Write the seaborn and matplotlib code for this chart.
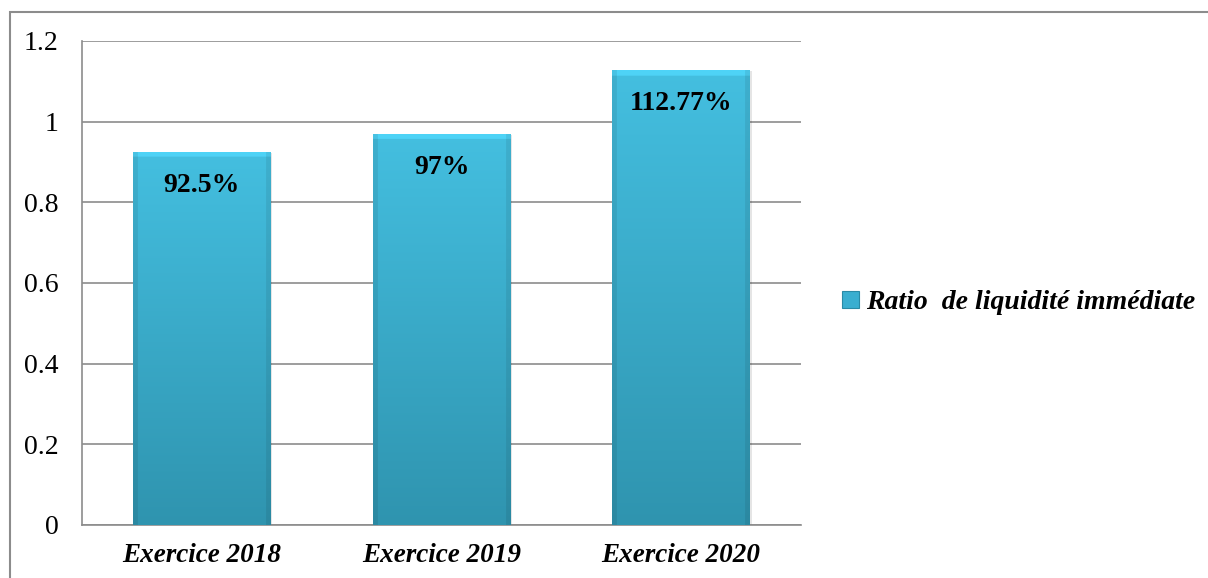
import numpy as np
import pandas as pd
import matplotlib
matplotlib.use("Agg")
import matplotlib.pyplot as plt
import seaborn as sns
from matplotlib.patches import Rectangle, Patch

# Data
categories = ["Exercice 2018", "Exercice 2019", "Exercice 2020"]
ratios = [0.925, 0.97, 1.1277]
labels = ["92.5%", "97%", "112.77%"]
series_name = "Ratio  de liquidité immédiate"
yticks = [0, 0.2, 0.4, 0.6, 0.8, 1.0, 1.2]
ytick_labels = ["0", "0.2", "0.4", "0.6", "0.8", "1", "1.2"]

sns.set_theme(style="white")
plt.rcParams["font.family"] = ["Liberation Serif", "DejaVu Serif"]
plt.rcParams["text.color"] = "black"
plt.rcParams["xtick.color"] = "black"
plt.rcParams["ytick.color"] = "black"

fig = plt.figure(figsize=(12.08, 5.78), dpi=100)
ax = fig.add_axes([0.0679, 0.0917, 0.5952, 0.8374])

df = pd.DataFrame({"cat": categories, "val": ratios})
sns.barplot(data=df, x="cat", y="val", ax=ax, color="#3cb4d8",
            width=0.575, saturation=1, edgecolor="none", zorder=3)

ax.set_ylim(0, 1.2)
ax.set_xlim(-0.5, 2.5)
ax.set_yticks(yticks)
ax.set_yticklabels(ytick_labels, fontsize=20)
ax.set_xlabel("")
ax.set_ylabel("")
ax.set_xticks(range(len(categories)))
ax.set_xticklabels(categories, fontsize=19.5, fontweight="bold", fontstyle="italic")
ax.tick_params(axis="y", length=0, pad=17, labelcolor="black")
ax.tick_params(axis="x", length=0, pad=13, labelcolor="black")

# Gridlines and frame
ax.yaxis.grid(True, color="#8c8c8c", linewidth=1.2, zorder=0)
ax.set_axisbelow(True)
for side in ["top", "right"]:
    ax.spines[side].set_visible(False)
for side in ["left", "bottom"]:
    ax.spines[side].set_color("#8c8c8c")
    ax.spines[side].set_linewidth(1.2)

# Beveled gradient fill for each bar
ny, nx = 400, 140
yy = np.linspace(0, 1, ny)[:, None]          # 0 = bottom, 1 = top
xx = np.linspace(0, 1, nx)[None, :]
top_c = np.array([0x44, 0xbf, 0xe0]) / 255
bot_c = np.array([0x2f, 0x94, 0xaf]) / 255
base = bot_c[None, None, :] + (top_c - bot_c)[None, None, :] * yy[..., None]
edge = np.minimum(xx, 1 - xx)
side_shade = np.where(edge < 0.035, 0.92, 1.0)
img = np.broadcast_to(base * side_shade[..., None], (ny, nx, 3)).copy()

for p in list(ax.patches):
    x0, w, h = p.get_x(), p.get_width(), p.get_height()
    # soft shadow
    sh = Rectangle((x0 + 0.006, -0.003), w, h, facecolor="#000000",
                   alpha=0.10, edgecolor="none", zorder=2)
    ax.add_patch(sh)
    band = img.copy()
    # light bevel strip along the top edge
    top_px = max(int(ny * (0.016 / h)), 3)
    band[-top_px:, :, :] = np.clip(band[-top_px:, :, :] * 1.08 + 0.02, 0, 1)
    im = ax.imshow(band, extent=[x0, x0 + w, 0, h], origin="lower",
                   aspect="auto", zorder=4, interpolation="bilinear")
    im.set_clip_path(p)

ax.set_xlim(-0.5, 2.5)
ax.set_ylim(0, 1.2)

# Value labels inside bar tops
for i, (v, lab) in enumerate(zip(ratios, labels)):
    ax.annotate(lab, xy=(i, v), xytext=(0, -24), textcoords="offset points",
                ha="center", va="center", fontsize=20, fontweight="bold",
                color="black", zorder=6)

# Legend
handle = Patch(facecolor="#3aaed0", edgecolor="#2a8aa6", linewidth=0.8)
fig.legend([handle], [series_name], loc="center left",
           bbox_to_anchor=(0.697, 0.476), frameon=False,
           prop={"size": 20, "weight": "bold", "style": "italic"},
           handlelength=0.6, handleheight=0.6, handletextpad=0.25,
           borderaxespad=0, borderpad=0)

# Outer chart border
fig.patches.append(Rectangle((10 / 1208, -0.01), 1.2, (578 - 12) / 578 + 0.01,
                             transform=fig.transFigure, fill=False,
                             edgecolor="#8c8c8c", linewidth=1.5))

fig.savefig("out.png", dpi=100)
